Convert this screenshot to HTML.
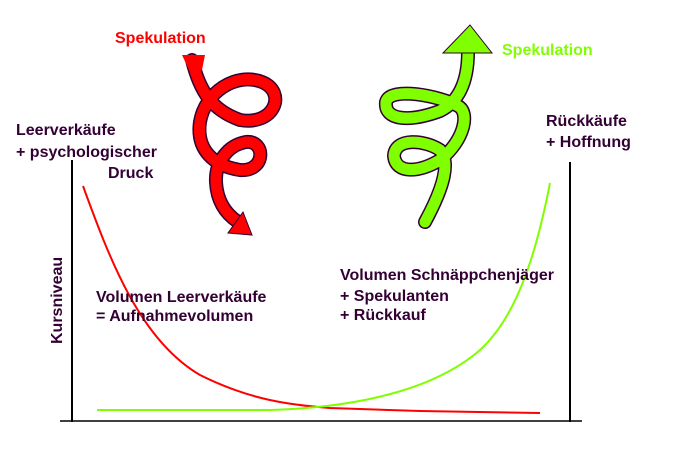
<!DOCTYPE html>
<html><head><meta charset="utf-8"><style>
html,body{margin:0;padding:0;background:#fff;}
svg{display:block}
text{font-family:"Liberation Sans",Arial,sans-serif;font-weight:bold;font-size:16px;fill:#330033}
</style></head><body>
<svg width="680" height="460" viewBox="0 0 680 460" xmlns="http://www.w3.org/2000/svg">
<rect width="680" height="460" fill="#fff"/>
<line x1="72" y1="160" x2="72" y2="422" stroke="#000" stroke-width="2"/>
<line x1="570" y1="162" x2="570" y2="422" stroke="#000" stroke-width="2"/>
<line x1="60" y1="421" x2="582" y2="421" stroke="#000" stroke-width="1.5"/>
<path d="M83,186 C110,260 140,340 200,375 C250,400 290,405 330,408 L420,411 L540,413" fill="none" stroke="#ff0000" stroke-width="2"/>
<path d="M97,410 L270,410 C370,407 440,385 480,350 C515,318 535,260 550,183" fill="none" stroke="#80ff00" stroke-width="2"/>
<g fill="none" stroke-linecap="round">
<path d="M192,60 C200,92 212,110 240,120 C275,126 287,92 262,82 C236,72 205,92 200,122 C196,150 214,166 240,170 C266,172 266,140 246,142 C228,145 215,162 216,182 C217,202 226,214 238,222" stroke="#330033" stroke-width="14"/>
<path d="M192,60 C200,92 212,110 240,120 C275,126 287,92 262,82 C236,72 205,92 200,122 C196,150 214,166 240,170 C266,172 266,140 246,142 C228,145 215,162 216,182 C217,202 226,214 238,222" stroke="#ff0000" stroke-width="11"/>
</g>
<polygon points="182,55 205,55 202,70 190,72" fill="#ff0000"/>
<polygon points="228,233 252,235 243,212" fill="#ff0000" stroke="#330033" stroke-width="1"/>
<g fill="none" stroke-linecap="round">
<path d="M425,222 C445,185 450,162 440,150 C425,140 395,137 394,156 C396,175 420,172 440,160 C465,140 470,112 458,106 C440,96 390,86 386,102 C384,121 410,122 440,111 C460,101 468,80 468,52" stroke="#330033" stroke-width="14"/>
<path d="M425,222 C445,185 450,162 440,150 C425,140 395,137 394,156 C396,175 420,172 440,160 C465,140 470,112 458,106 C440,96 390,86 386,102 C384,121 410,122 440,111 C460,101 468,80 468,52" stroke="#80ff00" stroke-width="11"/>
</g>
<polygon points="443,53 470,25 492,53" fill="#80ff00" stroke="#330033" stroke-width="1"/>
<text x="115" y="43" style="fill:#ff0000">Spekulation</text>
<text x="502" y="55" style="fill:#80ff00">Spekulation</text>
<text x="16" y="135">Leerverkäufe</text>
<text x="16" y="157">+ psychologischer</text>
<text x="108" y="178">Druck</text>
<text x="546" y="126">Rückkäufe</text>
<text x="546" y="147">+ Hoffnung</text>
<text x="96" y="302">Volumen Leerverkäufe</text>
<text x="96" y="321">= Aufnahmevolumen</text>
<text x="340" y="280">Volumen Schnäppchenjäger</text>
<text x="340" y="301">+ Spekulanten</text>
<text x="340" y="320">+ Rückkauf</text>
<text x="0" y="0" transform="translate(62,344) rotate(-90)">Kursniveau</text>
</svg>
</body></html>
